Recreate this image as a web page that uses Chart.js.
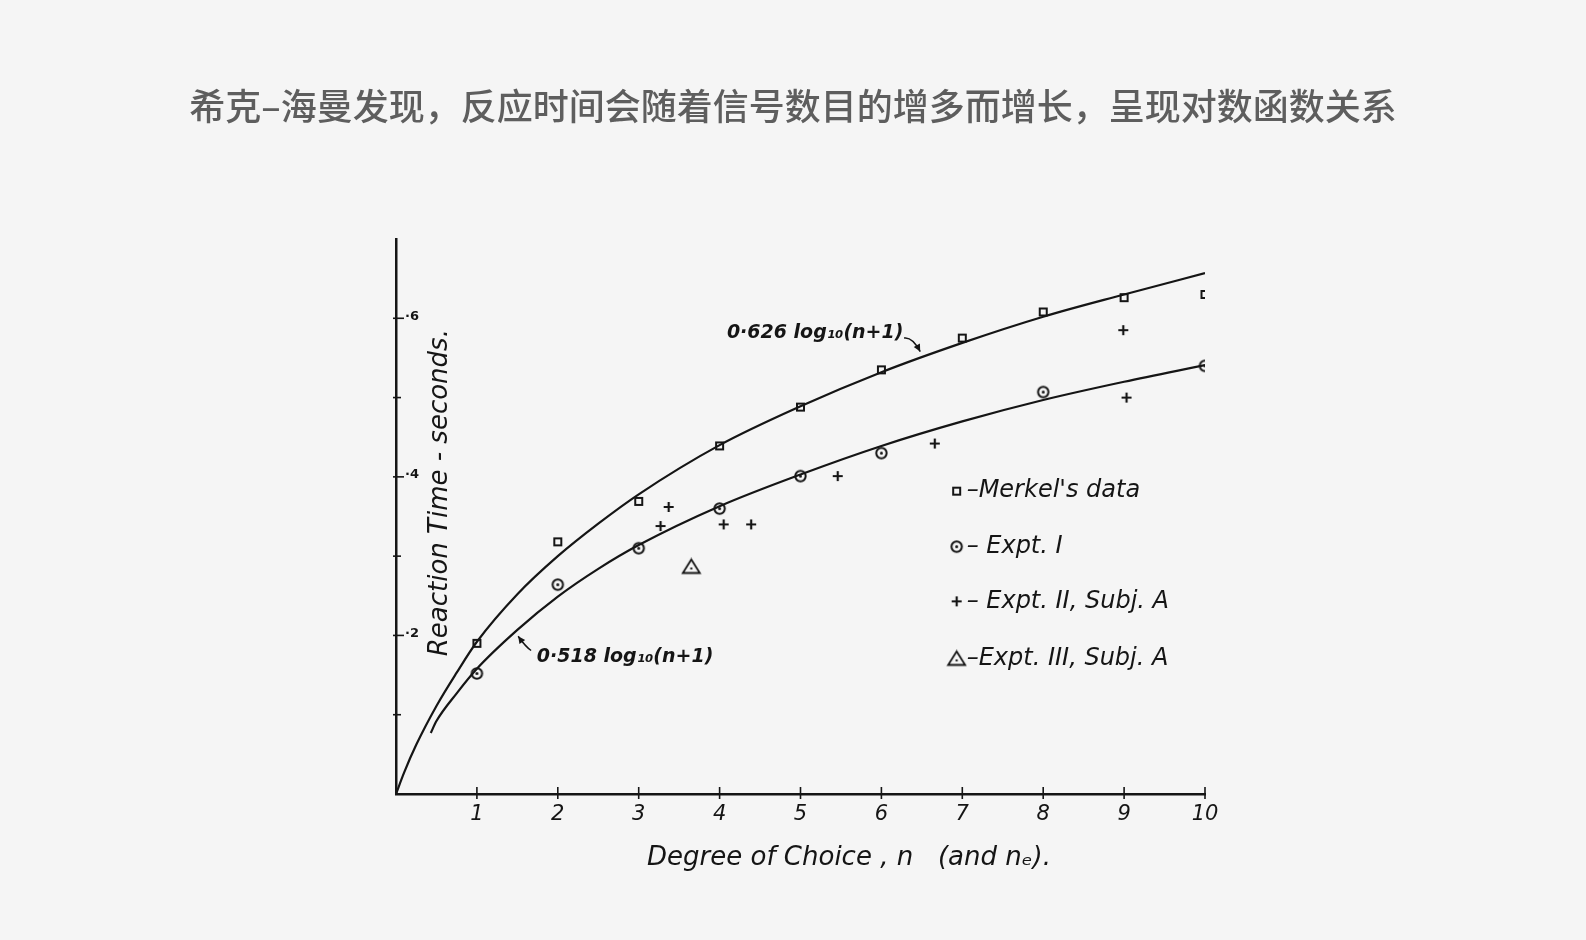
<!DOCTYPE html>
<html>
<head>
<meta charset="utf-8">
<script src="https://cdn.jsdelivr.net/npm/chart.js@4.4.1/dist/chart.umd.min.js"></script>
<style>
  html, body { margin: 0; padding: 0; background: #f5f5f5; }
  #wrap { position: relative; width: 1586px; height: 940px; }
  #hick { position: absolute; left: 0; top: 0; }
  #title {
    position: absolute; left: 0; top: 84px; width: 1586px;
    text-align: center; line-height: 40px;
    font-family: "Noto Sans CJK SC", sans-serif; font-size: 36px; font-weight: 500;
    color: #5e5e5e;
  }
</style>
</head>
<body>
<div id="wrap">
  <canvas id="hick" width="1586" height="940"></canvas>
  <div id="title">希克–海曼发现，反应时间会随着信号数目的增多而增长，呈现对数函数关系</div>
</div>
<script>
// fitted curves
const upperN  = [0, 0.1, 0.25, 0.5, 0.75, 1, 1.5, 2, 2.5, 3, 4, 5, 6, 7, 8, 9, 10];
const upperRT = [0, 0.027, 0.062, 0.111, 0.153, 0.192, 0.252, 0.300, 0.341, 0.378, 0.440, 0.489, 0.532, 0.569, 0.602, 0.630, 0.657];
const lowerN  = [0.43, 0.5, 0.75, 1, 1.5, 2, 2.5, 3, 4, 5, 6, 7, 8, 9, 10];
const lowerRT = [0.077, 0.092, 0.127, 0.158, 0.207, 0.249, 0.284, 0.314, 0.363, 0.403, 0.439, 0.470, 0.497, 0.520, 0.541];

// measured points
const merkelN  = [1, 2, 3, 4, 5, 6, 7, 8, 9, 10];
const merkelRT = [0.190, 0.318, 0.369, 0.439, 0.488, 0.535, 0.575, 0.608, 0.626, 0.630];
const expt1N   = [1, 2, 3, 4, 5, 6, 8, 10];
const expt1RT  = [0.152, 0.264, 0.310, 0.360, 0.401, 0.430, 0.507, 0.540];
const expt2N   = [3.37, 3.27, 4.05, 4.39, 5.46, 6.66, 8.99, 9.03];
const expt2RT  = [0.362, 0.338, 0.340, 0.340, 0.401, 0.442, 0.585, 0.500];
const expt3N   = [3.65];
const expt3RT  = [0.287];

const xTicks = [1, 2, 3, 4, 5, 6, 7, 8, 9, 10];
const yTicks = [0.1, 0.2, 0.3, 0.4, 0.5, 0.6];
const yLabelValues = [0.2, 0.4, 0.6];
const yLabelText = ['·2', '·4', '·6'];

const legendText = ["–Merkel's data", "– Expt. I", "– Expt. II, Subj. A", "–Expt. III, Subj. A"];
const upperNote = '0·626 log₁₀(n+1)';
const lowerNote = '0·518 log₁₀(n+1)';
const xTitle = 'Degree of Choice , n   (and nₑ).';
const yTitle = 'Reaction Time - seconds.';

const INK = '#151515';
const HAND = '"DejaVu Sans", sans-serif';

const pts = (xs, ys) => xs.map((x, i) => ({ x: x, y: ys[i] }));

function marker(w, h, draw) {
    const c = document.createElement('canvas');
    c.width = w; c.height = h;
    const g = c.getContext('2d');
    g.strokeStyle = INK; g.fillStyle = INK; g.lineWidth = 2;
    draw(g);
    return c;
}
const squareMark = marker(11, 11, g => g.strokeRect(2, 2, 7, 7));
const circleMark = marker(15, 15, g => {
    g.beginPath(); g.arc(7.5, 7.5, 5.2, 0, Math.PI * 2); g.stroke();
    g.beginPath(); g.arc(7.5, 7.5, 1.5, 0, Math.PI * 2); g.fill();
});
const crossMark = marker(12, 12, g => {
    g.lineWidth = 2.2;
    g.beginPath(); g.moveTo(6, 1); g.lineTo(6, 11); g.moveTo(1, 6); g.lineTo(11, 6); g.stroke();
});
const triMark = marker(21, 18, g => {
    g.lineWidth = 1.8;
    g.beginPath(); g.moveTo(10.5, 2); g.lineTo(19, 15.5); g.lineTo(2, 15.5); g.closePath(); g.stroke();
    g.fillRect(9.5, 10, 2, 2);
});
const legendMarks = [squareMark, circleMark, crossMark, triMark];

function arrow(ctx, x1, y1, cx, cy, x2, y2) {
    ctx.beginPath(); ctx.moveTo(x1, y1); ctx.quadraticCurveTo(cx, cy, x2, y2); ctx.stroke();
    const a = Math.atan2(y2 - cy, x2 - cx);
    ctx.beginPath();
    ctx.moveTo(x2, y2);
    ctx.lineTo(x2 - 8 * Math.cos(a - 0.45), y2 - 8 * Math.sin(a - 0.45));
    ctx.lineTo(x2 - 8 * Math.cos(a + 0.45), y2 - 8 * Math.sin(a + 0.45));
    ctx.closePath(); ctx.fill();
}

// tick marks, notes, legend and axis titles drawn on top of the plot
const paper = {
    id: 'paper',
    afterDraw(chart) {
        const { ctx, scales: { x, y } } = chart;
        const px = v => x.getPixelForValue(v);
        const py = v => y.getPixelForValue(v);
        ctx.save();
        ctx.strokeStyle = INK; ctx.fillStyle = INK; ctx.lineWidth = 1.6;

        const y0 = py(0), x0 = px(0);
        xTicks.forEach(v => {
            ctx.beginPath(); ctx.moveTo(px(v), y0 - 7); ctx.lineTo(px(v), y0 + 5); ctx.stroke();
        });
        yTicks.forEach(v => {
            const long = yLabelValues.some(l => Math.abs(l - v) < 1e-6);
            ctx.beginPath(); ctx.moveTo(x0 - 3, py(v)); ctx.lineTo(x0 + (long ? 8 : 5), py(v)); ctx.stroke();
        });

        ctx.textBaseline = 'middle';
        ctx.textAlign = 'left';
        ctx.font = 'italic bold 19px ' + HAND;
        ctx.fillText(upperNote, px(4.09), py(0.581));
        ctx.fillText(lowerNote, px(1.74), py(0.173));
        ctx.lineWidth = 1.5;
        arrow(ctx, px(6.28), py(0.575), px(6.38), py(0.577), px(6.48), py(0.558));
        arrow(ctx, px(1.67), py(0.181), px(1.6), py(0.186), px(1.51), py(0.199));

        ctx.font = 'italic 24px ' + HAND;
        const rows = [0.382, 0.312, 0.243, 0.171];
        legendMarks.forEach((m, i) => {
            const lx = px(6.93), ly = py(rows[i]);
            ctx.drawImage(m, lx - m.width / 2, ly - m.height / 2);
            ctx.fillText(legendText[i], lx + 10, ly);
        });

        ctx.font = 'italic 26px ' + HAND;
        ctx.textAlign = 'center';
        ctx.fillText(xTitle, px(5.6), y0 + 64);

        ctx.translate(x0 + 44, py(0.38));
        ctx.rotate(-Math.PI / 2);
        ctx.font = 'italic 26px ' + HAND;
        ctx.fillText(yTitle, 0, 0);
        ctx.restore();
    }
};

const tickFont = { family: HAND, style: 'italic', size: 21 };

new Chart(document.getElementById('hick'), {
    type: 'scatter',
    data: {
        datasets: [
            { label: 'upper', data: pts(upperN, upperRT), showLine: true, borderColor: INK, borderWidth: 2.2,
              pointRadius: 0, cubicInterpolationMode: 'monotone' },
            { label: 'lower', data: pts(lowerN, lowerRT), showLine: true, borderColor: INK, borderWidth: 2.2,
              pointRadius: 0, cubicInterpolationMode: 'monotone' },
            { label: "Merkel's data", data: pts(merkelN, merkelRT), pointStyle: squareMark, pointRadius: 5 },
            { label: 'Expt. I', data: pts(expt1N, expt1RT), pointStyle: circleMark, pointRadius: 6 },
            { label: 'Expt. II, Subj. A', data: pts(expt2N, expt2RT), pointStyle: crossMark, pointRadius: 6 },
            { label: 'Expt. III, Subj. A', data: pts(expt3N, expt3RT), pointStyle: triMark, pointRadius: 8 }
        ]
    },
    options: {
        responsive: false,
        animation: false,
        devicePixelRatio: 1,
        layout: { padding: { left: 396, right: 381, top: 239, bottom: 116 } },
        plugins: { legend: { display: false }, tooltip: { enabled: false } },
        scales: {
            x: {
                type: 'linear', min: 0, max: 10,
                afterFit: s => { s.height = 30; },
                grid: { display: false },
                border: { display: true, color: INK, width: 2.5 },
                ticks: {
                    stepSize: 1, autoSkip: false, maxRotation: 0, padding: 0, color: INK, font: tickFont,
                    callback: v => xTicks.includes(v) ? String(v) : ''
                }
            },
            y: {
                type: 'linear', min: 0, max: 0.7,
                afterFit: s => { s.width = 0; },
                grid: { display: false },
                border: { display: true, color: INK, width: 2.5 },
                ticks: {
                    stepSize: 0.1, mirror: true, padding: 9, labelOffset: -2, color: INK,
                    font: { family: HAND, size: 13, weight: 'bold' },
                    callback: v => {
                        const i = yLabelValues.findIndex(l => Math.abs(l - v) < 1e-6);
                        return i < 0 ? '' : yLabelText[i];
                    }
                }
            }
        }
    },
    plugins: [paper]
});
</script>
</body>
</html>
